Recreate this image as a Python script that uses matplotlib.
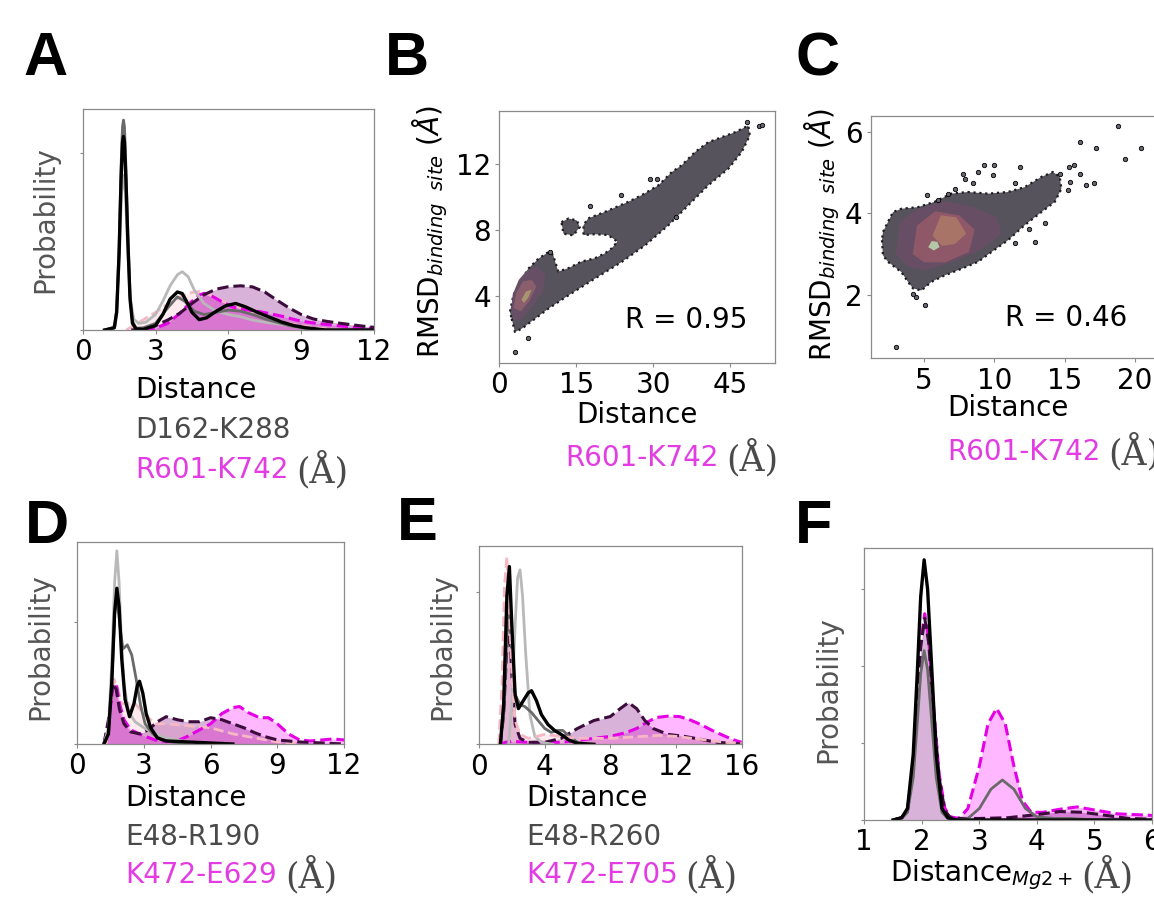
import matplotlib
matplotlib.use('Agg')
import matplotlib.pyplot as plt
from matplotlib.patches import Polygon

# ---------------- data ----------------
# KDE curves: (distance, probability) pairs ; A, D, E in fraction of axis height, F in tick units
A_black = [(0.9,0),(1.3,0.01),(1.4,0.08),(1.5,0.35),(1.58,0.68),(1.64,0.85),(1.68,0.876),(1.72,0.85),
           (1.78,0.68),(1.86,0.40),(1.95,0.14),(2.05,0.03),(2.2,0.005),(2.5,0.003),(3.0,0.02),(3.3,0.07),
           (3.6,0.14),(3.9,0.172),(4.1,0.165),(4.3,0.125),(4.5,0.08),(4.8,0.047),(5.1,0.055),(5.5,0.085),
           (5.9,0.11),(6.3,0.12),(6.7,0.105),(7.2,0.08),(7.7,0.058),(8.2,0.036),(8.7,0.02),(9.2,0.01),
           (9.6,0.005),(10.0,0),(12.0,0)]
A_grey = [(0.9,0),(1.3,0.01),(1.4,0.09),(1.5,0.38),(1.58,0.74),(1.64,0.92),(1.68,0.95),(1.72,0.92),
          (1.78,0.74),(1.86,0.44),(1.95,0.16),(2.05,0.04),(2.2,0.008),(2.5,0.01),(3.0,0.03),(3.5,0.1),
          (3.9,0.15),(4.2,0.13),(4.6,0.085),(5.0,0.07),(5.5,0.08),(6.0,0.09),(6.5,0.085),(7.0,0.07),
          (7.5,0.05),(8.0,0.035),(8.5,0.02),(9.0,0.01),(9.5,0),(12,0)]
A_silver = [(1.0,0),(1.35,0.02),(1.5,0.3),(1.6,0.62),(1.68,0.7),(1.76,0.62),(1.86,0.35),(1.95,0.15),
            (2.1,0.05),(2.3,0.03),(2.6,0.035),(3.0,0.07),(3.3,0.13),(3.6,0.2),(3.9,0.25),(4.1,0.264),
            (4.35,0.24),(4.6,0.18),(5.0,0.12),(5.5,0.085),(6.0,0.07),(6.5,0.06),(7.0,0.045),(7.5,0.035),
            (8.0,0.028),(8.5,0.02),(9.0,0.01),(9.5,0.004),(10,0)]
A_purple = [(2.0,0),(2.5,0.005),(3.0,0.02),(3.5,0.045),(4.0,0.076),(4.5,0.12),(5.0,0.16),(5.5,0.185),
            (6.0,0.196),(6.5,0.2),(7.0,0.195),(7.5,0.172),(8.0,0.135),(8.5,0.1),(9.0,0.07),(9.5,0.05),
            (10.0,0.04),(10.5,0.032),(11.0,0.025),(11.5,0.018),(12.0,0.012)]
A_magenta = [(2.5,0),(3.0,0.008),(3.5,0.03),(4.0,0.075),(4.4,0.12),(4.8,0.158),(5.0,0.166),(5.3,0.155),
             (5.7,0.13),(6.2,0.103),(6.7,0.092),(7.3,0.083),(7.8,0.072),(8.3,0.06),(8.8,0.045),(9.3,0.035),
             (9.8,0.028),(10.5,0.02),(11.2,0.012),(12.0,0.008)]
A_pink = [(1.8,0),(2.1,0.02),(2.4,0.04),(2.7,0.06),(3.05,0.083),(3.4,0.11),(3.7,0.128),(4.1,0.155),
          (4.5,0.17),(4.8,0.174),(5.2,0.16),(5.6,0.14),(6.0,0.12),(6.5,0.1),(7.0,0.082),(7.5,0.065),
          (8.0,0.045),(8.5,0.03),(9.0,0.02),(9.5,0.012),(10.0,0.006),(11,0)]

D_silver = [(1.2,0),(1.4,0.08),(1.55,0.4),(1.68,0.8),(1.78,0.955),(1.88,0.8),(1.98,0.52),(2.1,0.3),
            (2.3,0.16),(2.6,0.11),(3.0,0.08),(3.5,0.05),(4.0,0.03),(5.0,0.01),(6.0,0)]
D_black = [(1.2,0),(1.4,0.05),(1.55,0.3),(1.68,0.65),(1.78,0.77),(1.88,0.68),(2.0,0.42),(2.15,0.22),
           (2.35,0.135),(2.55,0.2),(2.7,0.29),(2.8,0.31),(2.95,0.25),(3.1,0.15),(3.3,0.08),(3.6,0.03),
           (4.0,0.015),(5.0,0.01),(6.0,0.005),(7.0,0)]
D_grey = [(1.2,0),(1.4,0.05),(1.55,0.3),(1.68,0.64),(1.78,0.74),(1.9,0.6),(2.05,0.47),(2.25,0.49),
          (2.45,0.44),(2.65,0.32),(2.85,0.19),(3.05,0.1),(3.4,0.05),(3.8,0.02),(4.5,0.005),(5.0,0)]
D_purple = [(1.2,0),(1.4,0.12),(1.6,0.30),(1.75,0.27),(1.9,0.17),(2.1,0.1),(2.4,0.06),(2.8,0.05),
            (3.2,0.07),(3.6,0.11),(4.0,0.135),(4.5,0.12),(5.0,0.11),(5.5,0.11),(6.0,0.13),(6.5,0.12),
            (7.0,0.1),(7.5,0.08),(8.0,0.055),(8.5,0.035),(9.0,0.02),(10.0,0.01),(11.0,0.005),(12.0,0)]
D_magenta = [(1.2,0),(1.4,0.1),(1.6,0.28),(1.75,0.3),(1.9,0.2),(2.1,0.12),(2.4,0.07),(3.0,0.04),
             (3.5,0.02),(4.0,0.012),(4.5,0.015),(5.0,0.04),(5.5,0.07),(6.0,0.1),(6.5,0.15),(7.0,0.18),
             (7.3,0.185),(7.7,0.155),(8.2,0.13),(8.6,0.13),(9.0,0.1),(9.5,0.05),(10.0,0.02),(10.5,0.015),
             (11.0,0.02),(11.5,0.025),(12.0,0.02)]
D_pink = [(1.3,0),(1.5,0.2),(1.65,0.32),(1.8,0.28),(2.0,0.2),(2.3,0.2),(2.6,0.2),(3.0,0.15),(3.5,0.1),
          (4.0,0.1),(5.0,0.09),(6.0,0.08),(7.0,0.05),(8.0,0.03),(9.0,0.01),(10.0,0)]

E_pink = [(1.2,0),(1.4,0.3),(1.55,0.8),(1.7,0.946),(1.85,0.7),(2.0,0.35),(2.2,0.12),(2.5,0.05),(3.0,0.03),
          (3.5,0.04),(4.0,0.05),(5.0,0.04),(6.0,0.03),(7.0,0.03),(8.0,0.03),(9.0,0.035),(10.0,0.04),
          (11.0,0.045),(12.0,0.04),(13.0,0.03),(14.0,0.02),(15.0,0.01),(16.0,0.005)]
E_black = [(1.3,0),(1.5,0.2),(1.7,0.75),(1.85,0.896),(2.0,0.6),(2.2,0.25),(2.4,0.18),(2.7,0.22),
           (3.0,0.26),(3.2,0.27),(3.5,0.22),(3.8,0.15),(4.2,0.1),(4.6,0.07),(5.0,0.05),(5.5,0.02),
           (6.0,0.005),(7.0,0)]
E_grey = [(1.3,0),(1.5,0.15),(1.7,0.55),(1.85,0.66),(2.0,0.45),(2.2,0.25),(2.5,0.2),(2.8,0.19),(3.2,0.16),
          (3.6,0.12),(4.0,0.08),(4.4,0.06),(4.8,0.07),(5.1,0.07),(5.5,0.04),(6.0,0.01),(6.5,0)]
E_silver = [(1.8,0),(2.0,0.2),(2.2,0.6),(2.35,0.84),(2.5,0.88),(2.65,0.75),(2.85,0.45),(3.1,0.15),
            (3.4,0.04),(3.8,0.01),(4.5,0)]
E_purple = [(1.3,0),(1.5,0.15),(1.7,0.5),(1.85,0.6),(2.0,0.35),(2.2,0.1),(2.5,0.03),(3.0,0.01),(4.0,0.01),
            (5.0,0.03),(6.0,0.08),(7.0,0.12),(8.0,0.14),(8.6,0.18),(9.1,0.21),(9.6,0.18),(10.1,0.12),
            (10.6,0.08),(11.5,0.05),(12.5,0.04),(13.5,0.025),(14.5,0.01),(15.5,0.005),(16.0,0)]
E_magenta = [(1.3,0),(1.6,0.01),(2.0,0.015),(3.0,0.01),(4.0,0.01),(5.0,0.01),(6.0,0.02),(7.0,0.03),
             (8.0,0.04),(9.0,0.06),(9.6,0.08),(10.2,0.11),(10.8,0.135),(11.5,0.142),(12.2,0.14),
             (12.8,0.125),(13.5,0.1),(14.2,0.07),(15.0,0.04),(15.6,0.02),(16.0,0.01)]

F_black = [(1.5,0),(1.65,0.03),(1.75,0.15),(1.85,0.85),(1.92,1.9),(1.98,2.9),(2.04,3.38),(2.1,3.0),
           (2.17,2.0),(2.25,0.85),(2.35,0.15),(2.45,0.03),(2.6,0),(6.0,0)]
F_grey = [(1.5,0),(1.65,0.02),(1.75,0.1),(1.85,0.55),(1.92,1.25),(1.98,1.9),(2.04,2.2),(2.1,1.95),
          (2.17,1.3),(2.25,0.55),(2.35,0.1),(2.45,0.02),(2.6,0),(2.8,0.02),(3.0,0.15),(3.2,0.4),
          (3.4,0.52),(3.6,0.4),(3.8,0.15),(4.0,0.04),(4.3,0.02),(4.6,0.02),(5.0,0),(6.0,0)]
F_magenta = [(1.5,0),(1.65,0.03),(1.75,0.12),(1.85,0.7),(1.92,1.55),(1.98,2.3),(2.05,2.68),(2.12,2.35),
             (2.2,1.5),(2.3,0.6),(2.4,0.15),(2.5,0.04),(2.65,0.02),(2.8,0.15),(3.0,0.7),(3.15,1.25),
             (3.3,1.45),(3.45,1.25),(3.6,0.7),(3.75,0.25),(3.9,0.1),(4.1,0.1),(4.4,0.14),(4.7,0.17),
             (5.0,0.13),(5.4,0.08),(6.0,0.06)]
F_purple = [(1.5,0),(1.65,0.03),(1.75,0.12),(1.85,0.7),(1.92,1.5),(1.98,2.25),(2.05,2.62),(2.12,2.3),
            (2.2,1.45),(2.3,0.55),(2.4,0.12),(2.5,0.03),(2.7,0.02),(3.0,0.02),(3.5,0.03),(4.0,0.07),
            (4.4,0.11),(4.8,0.1),(5.2,0.06),(5.6,0.02),(6.0,0.01)]

# scatter clouds (outline of the dense cloud, density cores, isolated points)
B_cloud = [(2.41,2.65),(3.05,1.85),(4.36,2.05),(6.95,2.65),(9.55,3.26),(13.45,4.06),(18.6,5.07),
           (23.8,6.07),(28.4,7.08),(32.9,8.28),(36.8,9.49),(40.7,10.7),(44.6,11.7),(47.2,12.7),
           (48.8,13.7),(48.5,14.3),(45.9,13.9),(43.3,13.6),(40.7,13.3),(38.1,12.7),(35.5,11.9),
           (33.6,11.5),(31.0,10.7),(27.7,10.1),(25.1,9.7),(20.6,9.1),(17.3,8.7),(16.4,8.3),(16.4,7.7),
           (18.6,7.75),(21.2,7.7),(23.0,7.3),(21.9,6.9),(20.6,6.6),(18.6,6.3),(16.0,6.1),(13.45,5.7),
           (11.5,5.5),(10.9,6.07),(10.5,6.5),(9.55,6.67),(7.6,6.27),(5.65,5.67),(3.7,4.66),(2.73,4.06),
           (2.08,3.06)]
B_blob = [(12.1,8.48),(13.5,8.7),(15.1,8.58),(15.7,8.18),(14.4,7.68),(12.5,7.78)]
B_core1 = [(2.3,3.0),(2.6,4.1),(3.8,5.0),(5.5,5.6),(7.5,5.8),(9.0,5.3),(8.5,4.3),(6.5,3.4),(4.5,2.7),(3.0,2.5)]
B_core2 = [(2.8,3.3),(3.3,4.2),(4.6,4.9),(6.3,5.0),(7.2,4.6),(5.8,3.7),(4.2,3.1)]
B_core3 = [(4.3,3.8),(5.2,4.3),(6.3,4.4),(5.6,3.9),(4.8,3.6)]
B_out_x = [3.05, 5.65, 17.7, 23.8, 29.4, 30.7, 34.5, 50.5, 51.1, 48.2, 9.9]
B_out_y = [0.64, 1.5, 9.45, 10.1, 11.1, 11.06, 8.8, 14.3, 14.36, 14.5, 6.67]

C_cloud = [(2.01,3.34),(2.08,2.97),(2.44,2.81),(3.39,2.56),(3.86,2.32),(4.22,2.16),(4.81,2.11),
           (5.52,2.32),(6.47,2.48),(7.66,2.64),(8.84,2.81),(9.79,3.05),(10.97,3.34),(12.16,3.71),
           (13.35,4.03),(14.3,4.28),(14.77,4.6),(14.65,4.89),(14.18,5.01),(13.35,4.89),(12.16,4.64),
           (10.97,4.52),(9.55,4.48),(8.13,4.52),(6.94,4.48),(5.76,4.28),(4.57,4.15),(3.39,4.11),
           (2.8,4.03),(2.44,3.79),(2.08,3.54)]
C_core1 = [(3.0,3.0),(3.3,3.8),(4.5,4.1),(6.5,4.3),(8.5,4.15),(10.2,3.9),(10.5,3.5),(9.0,3.1),(7.0,2.8),(5.0,2.6),(3.8,2.7)]
C_core2 = [(4.2,3.0),(4.5,3.7),(5.8,4.05),(7.5,3.95),(8.6,3.6),(8.2,3.05),(6.5,2.8),(5.0,2.8)]
C_core3 = [(5.6,3.45),(6.2,3.95),(7.3,3.9),(8.0,3.5),(7.2,3.25),(6.3,3.2)]
C_core4 = [(5.3,3.17),(5.55,3.32),(5.95,3.3),(6.1,3.17),(5.7,3.09)]
C_out_x = [18.8, 16.07, 17.2, 20.4, 19.27, 16.55, 17.1, 16.1, 15.7, 15.3, 15.35, 15.24, 11.8, 11.45,
           9.3, 10.0, 9.9, 8.84, 7.77, 7.9, 8.5, 5.24, 6.0, 6.7, 7.2, 12.87, 13.58, 12.5, 11.45,
           5.05, 3.03, 4.45, 4.2, 14.65]
C_out_y = [6.14, 5.75, 5.6, 5.6, 5.32, 4.7, 4.73, 4.95, 5.17, 5.13, 4.77, 4.56, 5.13, 4.73,
           5.17, 5.17, 4.93, 5.0, 4.97, 4.85, 4.73, 4.44, 4.32, 4.48, 4.59, 3.3, 3.75, 3.62, 3.26,
           1.76, 0.73, 1.95, 2.03, 4.97]
B_R = "R = 0.95"
C_R = "R = 0.46"

# ---------------- figure ----------------
W, H = 1154, 899
plt.rcParams['font.family'] = ['DejaVu Sans']
plt.rcParams['mathtext.fontset'] = 'dejavusans'
fig = plt.figure(figsize=(W / 100, H / 100), dpi=100)
FS = 20
FS_UNIT = 25
MAG = '#e23ce2'
DG = '#4a4a4a'


def add_ax(l, t, r, b):
    return fig.add_axes([l / W, 1 - b / H, (r - l) / W, (b - t) / H])


def style(ax):
    for s in ax.spines.values():
        s.set_color('#8a8a8a')
        s.set_linewidth(0.9)
    ax.tick_params(length=3, width=0.8, color='#8a8a8a', labelsize=FS, pad=3)


STY = {
    'pink':    dict(color='#f6b8c4', ls='--', lw=2.0, fill='#ffc0cb', a=0.3),
    'magenta': dict(color='#e600e6', ls='--', lw=2.2, fill='#ff00ff', a=0.28),
    'purple':  dict(color='#3c0c3c', ls='--', lw=2.2, fill='#800080', a=0.3),
    'silver':  dict(color='#b9b9b9', ls='-', lw=2.0, fill=None),
    'grey':    dict(color='#6a6a6a', ls='-', lw=2.0, fill=None),
    'black':   dict(color='#000000', ls='-', lw=2.4, fill=None),
}


def kde_panel(ax, curves, xlim, xticks, ylim, yticks, fill_from=None):
    style(ax)
    fill_from = fill_from or {}
    for key, data in curves:
        st = STY[key]
        if st['fill']:
            xs = [p[0] for p in data]
            ys = [p[1] for p in data]
            start = fill_from.get(key, -1e9)
            ax.fill_between(xs, 0, ys, where=[x >= start for x in xs], color=st['fill'],
                            alpha=st['a'], lw=0)
    for key, data in curves:
        st = STY[key]
        xs = [p[0] for p in data]
        ys = [p[1] for p in data]
        ax.plot(xs, ys, color=st['color'], ls=st['ls'], lw=st['lw'], solid_joinstyle='round')
    ax.set_xlim(*xlim)
    ax.set_ylim(*ylim)
    ax.set_xticks(xticks)
    ax.set_yticks(yticks)
    ax.set_yticklabels([])
    ax.tick_params(axis='y', length=2)


def cloud(ax, outline, extra, cores, ox, oy):
    for poly in [outline] + extra:
        ax.add_patch(Polygon(poly, closed=True, facecolor='#57535d', edgecolor='#1e1e22',
                             lw=1.6, ls=':', joinstyle='round', zorder=2))
    for poly, col in cores:
        ax.add_patch(Polygon(poly, closed=True, facecolor=col, edgecolor='none', zorder=3))
    ax.scatter(ox, oy, s=10, facecolor='#6a6570', edgecolor='black', lw=0.6, zorder=4)


def two_color(xp, yp, t1, t2, c1=MAG, fs=FS):
    r = fig.canvas.get_renderer()
    t = fig.text(xp / W, 1 - yp / H, t1, color=c1, fontsize=fs, va='center', ha='left')
    bb = t.get_window_extent(r)
    fig.text((bb.x1 + 8) / W, 1 - yp / H, t2, color=DG, fontsize=FS_UNIT, va='center', ha='left',
             family='DejaVu Serif')


def ftext(xp, yp, s, **kw):
    kw.setdefault('fontsize', FS)
    return fig.text(xp / W, 1 - yp / H, s, **kw)


# ---- A ----
axA = add_ax(82.7, 109, 374, 330)
kde_panel(axA, [('pink', A_pink), ('magenta', A_magenta), ('purple', A_purple), ('silver', A_silver),
                ('grey', A_grey), ('black', A_black)], (0, 12), [0, 3, 6, 9, 12], (0, 1), [0, 0.8])
# ---- D ----
axD = add_ax(77.3, 541.7, 344, 744)
kde_panel(axD, [('pink', D_pink), ('magenta', D_magenta), ('purple', D_purple), ('silver', D_silver),
                ('grey', D_grey), ('black', D_black)], (0, 12), [0, 3, 6, 9, 12], (0, 1), [0, 0.605])
# ---- E ----
axE = add_ax(479, 546, 741.7, 744.3)
kde_panel(axE, [('magenta', E_magenta), ('purple', E_purple), ('silver', E_silver), ('grey', E_grey),
                ('pink', E_pink), ('black', E_black)], (0, 16), [0, 4, 8, 12, 16], (0, 1), [0, 0.766])
# ---- F ----
axF = add_ax(864.3, 548.3, 1152, 820)
kde_panel(axF, [('magenta', F_magenta), ('purple', F_purple), ('grey', F_grey), ('black', F_black)],
          (1, 6), [1, 2, 3, 4, 5, 6], (0, 3.53), [0, 1, 2, 3], fill_from={'magenta': 2.5})

# ---- B ----
axB = add_ax(499.3, 110.7, 775, 362.7)
style(axB)
cloud(axB, B_cloud, [B_blob], [(B_core1, '#675066'), (B_core2, '#8a5e6c'), (B_core3, '#a8946e')],
      B_out_x, B_out_y)
axB.set_xlim(0, 53.7)
axB.set_ylim(0, 15.2)
axB.set_xticks([0, 15, 30, 45])
axB.set_yticks([4, 8, 12])
axB.text(48.3, 2.55, B_R, fontsize=FS, ha='right', va='center')

# ---- C ----
axC = add_ax(871, 116, 1160, 358.3)
style(axC)
cloud(axC, C_cloud, [], [(C_core1, '#684e64'), (C_core2, '#8e5868'), (C_core3, '#a87468'),
                         (C_core4, '#b4c8a8')], C_out_x, C_out_y)
axC.set_xlim(1.23, 21.78)
axC.set_ylim(0.45, 6.38)
axC.set_xticks([5, 10, 15, 20])
axC.set_yticks([2, 4, 6])
axC.text(19.44, 1.44, C_R, fontsize=FS, ha='right', va='center')

# ---- panel letters ----
for ch, x, y in [('A', 23, 75), ('B', 385, 75), ('C', 795, 76), ('D', 25, 543), ('E', 397, 540), ('F', 795, 543)]:
    ftext(x, y, ch, fontsize=44, fontweight='bold', family='Liberation Sans', va='baseline', ha='left')

# ---- y labels ----
for x, y in [(45, 220), (40, 647), (442, 647), (828, 690)]:
    ftext(x, y, 'Probability', rotation=90, ha='center', va='center', color='#555555')
rmsd = r'RMSD$_{binding\ \ site}$ $\mathit{(Å)}$'
ftext(430, 232, rmsd, rotation=90, ha='center', va='center')
ftext(822, 235, rmsd, rotation=90, ha='center', va='center')

# ---- x labels ----
ftext(135, 390, 'Distance', va='center')
ftext(135, 430, 'D162-K288', va='center', color=DG)
two_color(135, 470, 'R601-K742', '(Å)')

ftext(637, 415, 'Distance', va='center', ha='center')
two_color(565, 458, 'R601-K742', '(Å)')

ftext(1008, 408, 'Distance', va='center', ha='center')
two_color(947, 452, 'R601-K742', '(Å)')

ftext(125, 798, 'Distance', va='center')
ftext(125, 837, 'E48-R190', va='center', color=DG)
two_color(125, 875, 'K472-E629', '(Å)')

ftext(526, 798, 'Distance', va='center')
ftext(526, 837, 'E48-R260', va='center', color=DG)
two_color(526, 875, 'K472-E705', '(Å)')

two_color(890, 875, r'Distance$_{Mg2+}$', '(Å)', c1='black')

fig.savefig('out.png', dpi=100)
